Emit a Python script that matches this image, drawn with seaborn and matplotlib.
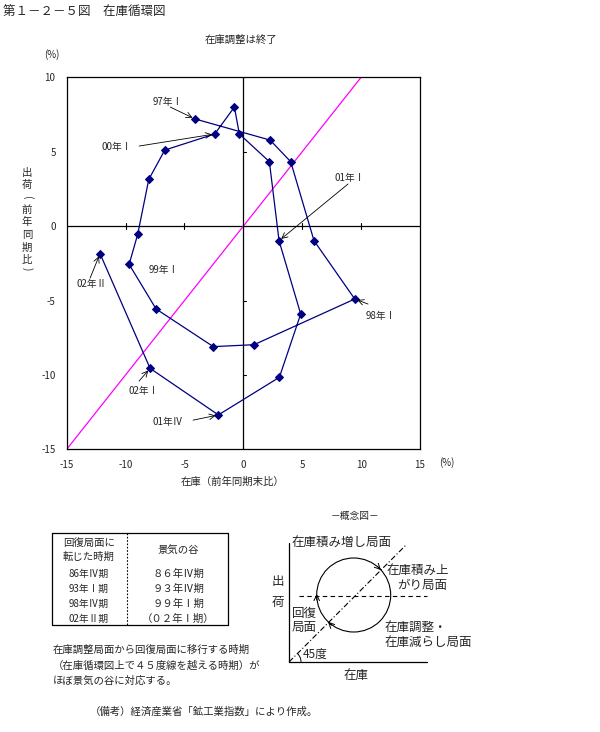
import matplotlib
matplotlib.use("Agg")
import matplotlib.pyplot as plt
from matplotlib.patches import Circle, Arc
import seaborn as sns
import pandas as pd

# ---------------- data ----------------
quarters = ["97年Ⅰ", "97年Ⅱ", "97年Ⅲ", "97年Ⅳ",
            "98年Ⅰ", "98年Ⅱ", "98年Ⅲ", "98年Ⅳ",
            "99年Ⅰ", "99年Ⅱ", "99年Ⅲ", "99年Ⅳ",
            "00年Ⅰ", "00年Ⅱ", "00年Ⅲ", "00年Ⅳ",
            "01年Ⅰ", "01年Ⅱ", "01年Ⅲ", "01年Ⅳ",
            "02年Ⅰ", "02年Ⅱ"]
inventory = [-4.1, 2.27, 4.02, 6.0,
             9.46, 0.91, -2.55, -7.41,
             -9.7, -8.97, -8.03, -6.67,
             -2.43, -0.76, -0.34, 2.21,
             3.03, 4.87, 3.06, -2.12,
             -7.92, -12.17]
shipments = [7.2, 5.78, 4.33, -0.98,
             -4.9, -7.97, -8.1, -5.57,
             -2.57, -0.55, 3.14, 5.11,
             6.19, 8.0, 6.19, 4.33,
             -0.98, -5.91, -10.16, -12.69,
             -9.56, -1.85]
x_ticks = [-15, -10, -5, 0, 5, 10, 15]
y_ticks = [-15, -10, -5, 0, 5, 10]
diag = [-15, 10]

table_left = ["86年Ⅳ期", "93年Ⅰ期", "98年Ⅳ期", "02年Ⅱ期"]
table_right = ["８６年Ⅳ期", "９３年Ⅳ期", "９９年Ⅰ期", "（０２年Ⅰ期）"]

# ---------------- style ----------------
sns.set_style("white")
plt.rcParams["font.family"] = ["Noto Sans CJK JP", "DejaVu Sans"]
plt.rcParams["axes.unicode_minus"] = False

NAVY = "#000080"
fig = plt.figure(figsize=(6.0, 7.32), dpi=100)

# overlay axes in pixel coordinates
ov = fig.add_axes([0, 0, 1, 1])
ov.set_xlim(0, 600)
ov.set_ylim(732, 0)
ov.axis("off")
ov.set_zorder(0)

# main chart axes
ax = fig.add_axes([66.7 / 600, 1 - 449.3 / 732, (420 - 66.7) / 600, (449.3 - 77.3) / 732])
ax.set_zorder(1)
ax.patch.set_alpha(0)

df = pd.DataFrame({"q": quarters, "inv": inventory, "ship": shipments})
sns.lineplot(data=df, x="inv", y="ship", sort=False, color=NAVY, lw=0.9,
             marker="D", markersize=3.6, markeredgecolor=NAVY, ax=ax)
ax.plot(diag, diag, color="#FF00FF", lw=0.9, zorder=1)

ax.set_xlim(-15, 15)
ax.set_ylim(-15, 10)
ax.axhline(0, color="black", lw=0.9, zorder=0)
ax.axvline(0, color="black", lw=0.9, zorder=0)
for s in ax.spines.values():
    s.set_color("black")
    s.set_linewidth(0.9)
ax.set_xticks(x_ticks)
ax.set_yticks(y_ticks)
ax.tick_params(length=0, labelsize=7, pad=8)
ax.set_xlabel("")
ax.set_ylabel("")
# tick marks on zero axes
for xv in x_ticks[1:-1]:
    ax.plot([xv, xv], [-0.2, 0.2], color="black", lw=0.8)
for yv in y_ticks[1:]:
    ax.plot([0, 0.2], [yv, yv], color="black", lw=0.8)

# annotations: label -> (text position, arrow start or None)
ann = {
    "97年Ⅰ": ((-6.39, 8.34), (-6.21, 8.0)),
    "00年Ⅰ": ((-10.72, 5.31), (-8.85, 5.38)),
    "01年Ⅰ": ((9.06, 3.23), (8.89, 2.83)),
    "99年Ⅰ": ((-6.8, -2.95), None),
    "02年Ⅱ": ((-12.84, -3.9), (-13.01, -3.49)),
    "02年Ⅰ": ((-8.51, -11.07), (-8.85, -10.41)),
    "01年Ⅳ": ((-6.39, -13.17), (-4.27, -13.04)),
    "98年Ⅰ": ((11.69, -6.04), (10.59, -5.24)),
}
for lab, (tpos, apos) in ann.items():
    i = quarters.index(lab)
    ax.text(tpos[0], tpos[1], lab, fontsize=7, ha="center", va="center")
    if apos is not None:
        ax.annotate("", xy=(inventory[i], shipments[i]), xytext=apos,
                    arrowprops=dict(arrowstyle="->", lw=0.6, color="black",
                                    shrinkA=0, shrinkB=2))

# ---------------- texts around chart ----------------
ov.text(3, 11, "第１－２－５図　在庫循環図", fontsize=9, ha="left", va="center")
ov.text(241, 40, "在庫調整は終了", fontsize=7.5, ha="center", va="center")
ov.text(52, 55, "(%)", fontsize=7, ha="center", va="center")
ov.text(447, 463, "(%)", fontsize=7, ha="center", va="center")
ov.text(233, 482, "在庫（前年同期末比）", fontsize=7.5, ha="center", va="center")
ylab_chars = ["出", "荷", "(", "前", "年", "同", "期", "比", ")"]
ylab_y = [173, 185, 198, 210, 222, 235, 248, 260, 269]
for ch, yy in zip(ylab_chars, ylab_y):
    rot = -90 if ch in "()" else 0
    ov.text(27, yy, ch, fontsize=7.5, ha="center", va="center", rotation=rot)

# ---------------- table ----------------
tl, tr, tt, tb, tm = 52, 228, 533, 625, 127
ov.plot([tl, tr, tr, tl, tl], [tt, tt, tb, tb, tt], color="black", lw=0.9)
ov.plot([tm, tm], [tt, tb], color="black", lw=0.8, ls=(0, (1.5, 1.5)))
ov.text(63, 543, "回復局面に", fontsize=7.5, ha="left", va="center")
ov.text(63, 557, "転じた時期", fontsize=7.5, ha="left", va="center")
ov.text(178, 550, "景気の谷", fontsize=7.5, ha="center", va="center")
for k, (a, b) in enumerate(zip(table_left, table_right)):
    yy = 574 + 15 * k
    ov.text(89, yy, a, fontsize=7, ha="center", va="center")
    ov.text(178, yy, b, fontsize=7.5, ha="center", va="center")

notes = ["在庫調整局面から回復局面に移行する時期",
         "（在庫循環図上で４５度線を越える時期）が",
         "ほぼ景気の谷に対応する。"]
for k, line in enumerate(notes):
    ov.text(53, 650 + 15.5 * k, line, fontsize=7.5, ha="left", va="center")
ov.text(90, 712, "（備考）経済産業省「鉱工業指数」により作成。", fontsize=7.5,
        ha="left", va="center")

# ---------------- concept diagram ----------------
ox, oy = 289, 662
ov.text(355, 516, "－概念図－", fontsize=7, ha="center", va="center")
ov.plot([ox, ox], [543, oy], color="black", lw=0.9)
ov.plot([ox, 427], [oy, oy], color="black", lw=0.9)
ov.add_patch(Circle((353.7, 595), 37, fill=False, ec="black", lw=0.8))
ov.plot([299, 427], [595.7, 595.7], color="black", lw=0.8, ls=(0, (4, 3)))
ov.plot([ox, 406.7], [oy, 544.3], color="black", lw=0.8, ls=(0, (5, 2, 1, 2)))
ov.add_patch(Arc((ox, oy), 24, 24, theta1=-45, theta2=0, color="black", lw=0.7))
# direction arrows on circle (clockwise)
for (x0, y0, dx, dy) in [(316.7, 600, 0, -6), (331.5, 625.3, -3.5, -3.5), (377.5, 566.5, 3.5, 3.5)]:
    ov.annotate("", xy=(x0 + dx, y0 + dy), xytext=(x0, y0),
                arrowprops=dict(arrowstyle="->", lw=0.7, color="black",
                                shrinkA=0, shrinkB=0))
ov.text(292, 543, "在庫積み増し局面", fontsize=9, ha="left", va="center")
ov.text(387, 571, "在庫積み上", fontsize=9, ha="left", va="center")
ov.text(397, 586, "がり局面", fontsize=9, ha="left", va="center")
ov.text(292, 613, "回復", fontsize=9, ha="left", va="center")
ov.text(292, 627, "局面", fontsize=9, ha="left", va="center")
ov.text(385, 627, "在庫調整・", fontsize=9, ha="left", va="center")
ov.text(385, 642, "在庫減らし局面", fontsize=9, ha="left", va="center")
ov.text(303, 654, "45度", fontsize=8.5, ha="left", va="center")
ov.text(278, 582, "出", fontsize=9, ha="center", va="center")
ov.text(278, 602, "荷", fontsize=9, ha="center", va="center")
ov.text(356, 676, "在庫", fontsize=9, ha="center", va="center")

fig.savefig("out.png", dpi=100)
